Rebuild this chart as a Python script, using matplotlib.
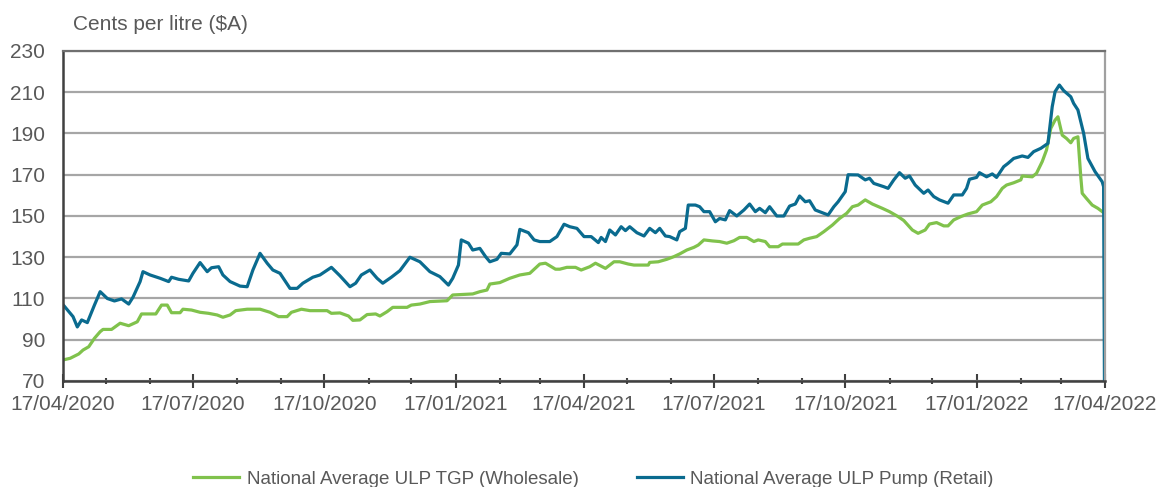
import matplotlib
matplotlib.use("Agg")
import matplotlib.pyplot as plt
import matplotlib.dates as mdates
import pandas as pd

plt.rcParams.update({"font.family": ["Liberation Sans", "DejaVu Sans"]})

START = pd.Timestamp("2020-04-17")
END = pd.Timestamp("2022-04-17")

# days since 17/04/2020, cents per litre
retail_days = [
    0, 7, 10, 13, 17, 22, 26, 31, 36, 41,
    46, 49, 54, 56, 61, 68, 74, 76, 81, 88,
    91, 96, 101, 104, 109, 112, 117, 124, 129, 133,
    138, 143, 147, 152, 159, 164, 168, 175, 180, 188,
    194, 201, 205, 209, 215, 220, 224, 230, 236, 243,
    250, 257, 264, 270, 273, 277, 279, 284, 287, 292,
    296, 299, 304, 307, 313, 318, 320, 326, 330, 334,
    341, 346, 351, 355, 360, 365, 370, 375, 377, 380,
    383, 387, 391, 394, 397, 402, 407, 411, 415, 418,
    422, 425, 430, 432, 436, 438, 443, 446, 449, 453,
    457, 460, 464, 467, 472, 477, 481, 485, 488, 492,
    495, 500, 505, 509, 513, 516, 520, 523, 527, 530,
    536, 540, 543, 548, 550, 557, 562, 565, 568, 575,
    578, 582, 586, 590, 593, 597, 603, 606, 610, 614,
    620, 624, 630, 633, 635, 640, 642, 647, 651, 654,
    659, 662, 666, 672, 676, 680, 685, 690, 693, 695,
    698, 701, 706, 708, 711, 715, 718, 723, 728, 729, 730,
]
retail_cpl = [
    107, 101.2, 96.2, 99.6, 98.3, 106.8, 113.3, 110, 108.8, 109.8,
    107.3, 110.6, 118.2, 123, 121.4, 119.8, 118.2, 120.3, 119.3, 118.5,
    122.2, 127.4, 123, 124.9, 125.4, 121.4, 118.2, 116, 115.7, 123.8,
    131.9, 127.1, 123.8, 122.2, 114.9, 114.9, 117.4, 120.3, 121.4, 125.1,
    121, 115.7, 117.4, 121.4, 123.8, 119.8, 117.4, 120.3, 123.5, 130,
    127.8, 123, 120.6, 116.5, 119.8, 126.2, 138.4, 136.8, 133.5, 134.3,
    130.3, 127.8, 129, 131.9, 131.6, 136, 143.5, 141.9, 138.4, 137.6,
    137.6, 140, 146, 144.8, 144, 140, 140, 137.1, 139.6, 137.6,
    143.2, 140.8, 144.8, 142.9, 144.8, 141.9, 140.3, 144, 141.9, 144,
    140.3, 140, 138.4, 142.4, 144, 155.3, 155.3, 154.5, 152.1, 152.1,
    147.2, 148.8, 148.1, 152.6, 150, 152.9, 155.8, 152.1, 153.7, 151.6,
    154.5, 150, 150, 154.8, 155.8, 159.7, 156.9, 157.4, 152.9, 152.1,
    150.5, 154.5, 156.9, 161.8, 170, 169.9, 167.5, 168.3, 165.8, 164.2,
    163.4, 167.5, 171, 168.3, 169.4, 165, 161, 162.6, 159.4, 157.8,
    156.2, 160.2, 160.2, 163.4, 167.8, 168.7, 171, 169, 170.4, 168.7,
    173.9, 175.5, 177.9, 179.1, 178.4, 181.2, 182.8, 185.2, 203, 210.3,
    213.5, 210.8, 207.8, 204.6, 201.4, 190.1, 177.9, 171.5, 166.6, 164.2, 0,
]

wholesale_days = [
    0, 5, 11, 14, 18, 22, 26, 28, 34, 40,
    46, 52, 55, 65, 69, 73, 76, 82, 84, 90,
    96, 102, 108, 112, 117, 121, 129, 138, 145, 151,
    157, 160, 167, 173, 185, 188, 194, 200, 203, 208,
    213, 219, 222, 227, 231, 241, 244, 250, 257, 269,
    273, 287, 292, 297, 299, 306, 313, 320, 327, 334,
    338, 345, 348, 353, 359, 363, 369, 373, 380, 386,
    390, 396, 400, 410, 411, 417, 423, 428, 432, 437,
    442, 445, 449, 455, 460, 465, 470, 474, 479, 484,
    487, 492, 495, 501, 504, 515, 519, 523, 528, 533,
    539, 544, 549, 553, 557, 562, 567, 574, 579, 585,
    589, 595, 599, 604, 607, 612, 617, 620, 624, 629,
    634, 640, 644, 650, 654, 658, 661, 666, 671, 672,
    679, 682, 686, 689, 692, 695, 697, 700, 703, 706,
    708, 711, 713, 714, 717, 721, 725, 729,
]
wholesale_cpl = [
    80.2, 81, 83.1, 85, 86.6, 90.7, 93.9, 95, 95, 98,
    96.8, 98.7, 102.5, 102.5, 106.8, 106.8, 103.1, 103.1, 104.8, 104.4,
    103.3, 102.8, 102, 100.9, 102, 104.1, 104.8, 104.8, 103.3, 101.2,
    101.2, 103.3, 104.8, 104.1, 104.1, 102.8, 103, 101.5, 99.4, 99.6,
    102.2, 102.5, 101.5, 103.6, 105.7, 105.7, 106.8, 107.3, 108.5, 108.9,
    111.7, 112.2, 113.3, 114.1, 117, 117.7, 119.8, 121.4, 122.2, 126.7,
    127.1, 124.2, 124.2, 125.1, 125.1, 123.8, 125.4, 127.1, 124.6, 127.8,
    127.8, 126.7, 126.2, 126.2, 127.5, 127.8, 129, 130.3, 131.6, 133.5,
    134.8, 135.9, 138.4, 137.9, 137.6, 136.8, 138, 139.6, 139.6, 137.6,
    138.4, 137.6, 135.1, 135.1, 136.4, 136.4, 138.4, 139.2, 140, 142.4,
    145.6, 148.8, 151.3, 154.5, 155.3, 157.8, 155.8, 153.7, 152.1, 149.7,
    147.8, 143.2, 141.6, 143.2, 146.1, 146.8, 145.2, 145.2, 148.1, 149.7,
    151, 152.1, 155.3, 156.9, 159.4, 163.4, 165, 166.1, 167.5, 169.4,
    169, 170.7, 176.4, 182, 192.5, 196.5, 198.1, 189.2, 187.6, 185.5,
    187.6, 188.4, 169, 161, 158.5, 155.3, 153.7, 151.6,
]

GREEN = "#80C24C"
BLUE = "#0A6B8F"
TEXT = "#595959"

retail_dates = START + pd.to_timedelta(retail_days, unit="D")
wholesale_dates = START + pd.to_timedelta(wholesale_days, unit="D")

fig = plt.figure(figsize=(11.61, 4.87), dpi=100)
ax = fig.add_axes([0.0543, 0.2177, 0.8975, 0.6776])

ax.plot(wholesale_dates, wholesale_cpl, color=GREEN, lw=2.3,
        label="National Average ULP TGP (Wholesale)")
ax.plot(retail_dates, retail_cpl, color=BLUE, lw=2.3,
        label="National Average ULP Pump (Retail)")

ax.set_ylim(70, 230)
ax.set_xlim(START, END)
ax.set_yticks(range(70, 231, 20))
ax.yaxis.grid(True, color="#A6A6A6", lw=1.6)
ax.set_axisbelow(True)

ax.xaxis.set_major_locator(mdates.MonthLocator(bymonth=[1, 4, 7, 10], bymonthday=17))
ax.xaxis.set_minor_locator(mdates.MonthLocator(bymonthday=17))
ax.xaxis.set_major_formatter(mdates.DateFormatter("%d/%m/%Y"))

ax.tick_params(axis="y", length=0, pad=13, labelsize=15, labelcolor=TEXT)
ax.tick_params(axis="x", which="major", direction="inout", length=9.5, width=1.5,
               color="#404040", pad=5, labelsize=15, labelcolor=TEXT)
ax.tick_params(axis="x", which="minor", direction="inout", length=5, width=1.5,
               color="#404040")

for side in ["left", "bottom"]:
    ax.spines[side].set_color("#404040")
    ax.spines[side].set_linewidth(1.8)
ax.spines["top"].set_color("#707070")
ax.spines["top"].set_linewidth(1.6)
ax.spines["right"].set_color("#A0A0A0")
ax.spines["right"].set_linewidth(1.6)

fig.text(73 / 1161, 1 - 25 / 487, "Cents per litre ($A)", fontsize=15,
         color=TEXT, ha="left", va="center")

fig.legend(loc="center", bbox_to_anchor=(0.511, 1 - 479 / 487), ncol=2,
           frameon=False, fontsize=13.5, labelcolor=TEXT, handlelength=2.45,
           handletextpad=0.4, columnspacing=3.1, borderaxespad=0)

fig.savefig("out.png", dpi=100)
